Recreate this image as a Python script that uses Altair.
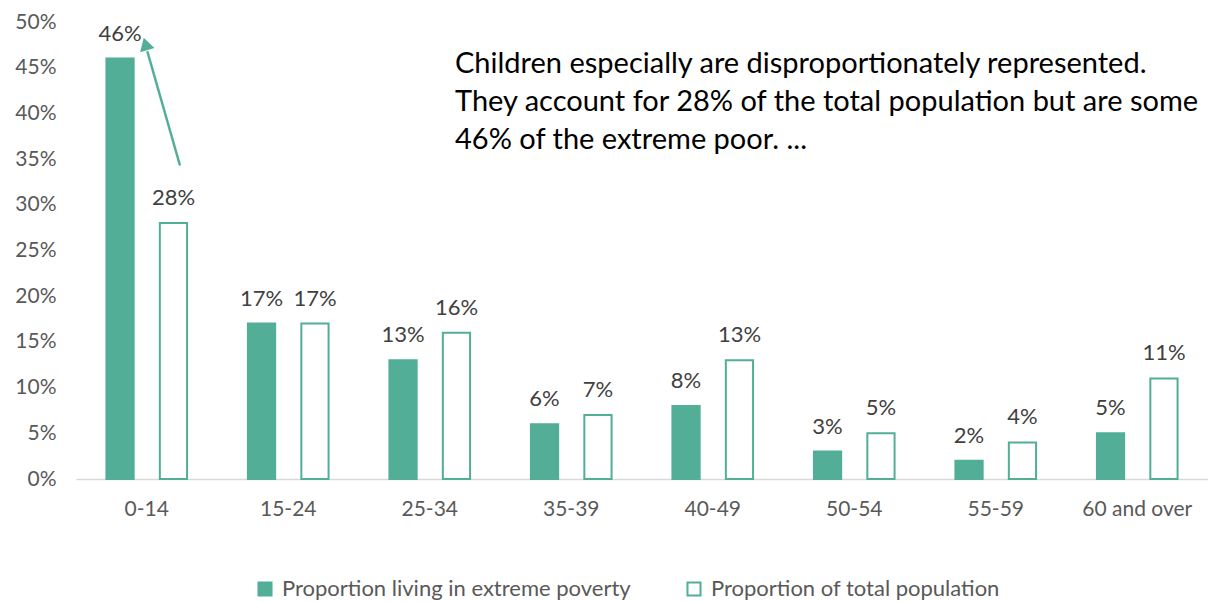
import altair as alt
import pandas as pd

categories = ["0-14", "15-24", "25-34", "35-39", "40-49", "50-54", "55-59", "60 and over"]
poverty = [46, 17, 13, 6, 8, 3, 2, 5]
population = [28, 17, 16, 7, 13, 5, 4, 11]
series_names = ["Proportion living in extreme poverty", "Proportion of total population"]
annotation = [
    "Children especially are disproportionately represented.",
    "They account for 28% of the total population but are some",
    "46% of the extreme poor. ...",
]

GREEN = "#52ae96"
FONT = "Lato"

rows = []
for c, p, t in zip(categories, poverty, population):
    rows.append({"age": c, "series": series_names[0], "value": p})
    rows.append({"age": c, "series": series_names[1], "value": t})
df = pd.DataFrame(rows)

x_enc = alt.X("age:N", sort=categories, title=None,
              scale=alt.Scale(paddingInner=0.43, paddingOuter=0.215),
              axis=alt.Axis(labelAngle=0, labelFont=FONT, labelFontSize=21,
                            labelColor="#595959", ticks=False, labelPadding=19,
                            domainColor="#d9d9d9", domainWidth=1.5))
xoff = alt.XOffset("series:N", sort=series_names,
                   scale=alt.Scale(paddingInner=0.49, paddingOuter=0))
y_enc = alt.Y("value:Q", title=None,
              scale=alt.Scale(domain=[0, 50], nice=False),
              axis=alt.Axis(values=list(range(0, 51, 5)), labelExpr="datum.value + '%'",
                            labelFont=FONT, labelFontSize=21, labelColor="#595959",
                            ticks=False, domain=False, grid=False, labelPadding=20))

base = alt.Chart(df)

bars = base.mark_bar(stroke=GREEN, strokeWidth=2).encode(
    x=x_enc,
    xOffset=xoff,
    y=y_enc,
    fill=alt.Fill("series:N", sort=series_names,
                  scale=alt.Scale(domain=series_names, range=[GREEN, "#ffffff"]),
                  legend=alt.Legend(title=None, orient="none", direction="horizontal",
                                    legendX=178, legendY=556,
                                    symbolType="square", symbolSize=170,
                                    symbolStrokeColor=GREEN, symbolStrokeWidth=2,
                                    labelFont=FONT, labelFontSize=22, labelColor="#595959",
                                    labelLimit=0, columnPadding=52, labelOffset=6)),
)

labels = base.mark_text(font=FONT, fontSize=22, color="#404040",
                        baseline="alphabetic", dy=-18).encode(
    x=alt.X("age:N", sort=categories),
    xOffset=xoff,
    y=alt.Y("value:Q"),
    text=alt.Text("label:N"),
).transform_calculate(label="datum.value + '%'")

ann_df = pd.DataFrame({"text": [annotation]})
ann = alt.Chart(ann_df).mark_text(font=FONT, fontSize=29, color="#000000",
                                  align="left", baseline="alphabetic",
                                  lineHeight=38).encode(
    x=alt.value(379), y=alt.value(51), text="text"
)

arrow_df = pd.DataFrame({"y0": [34.3], "y1": [46.8], "yh": [47.6]})
arrow_line = alt.Chart(arrow_df).mark_rule(color=GREEN, strokeWidth=2.5).encode(
    x=alt.value(104), x2=alt.value(71.3),
    y=alt.Y("y0:Q"), y2="y1:Q",
)
arrow_head = alt.Chart(arrow_df).mark_point(shape="triangle-up", filled=True,
                                            color=GREEN, opacity=1, size=220,
                                            angle=344).encode(
    x=alt.value(69.5), y=alt.Y("yh:Q")
)

chart = alt.layer(bars, labels, ann, arrow_line, arrow_head).properties(
    width=1132, height=457,
    autosize=alt.AutoSizeParams(type="none"),
    padding={"left": 68, "top": 14, "right": 0, "bottom": 123},
).configure_view(stroke=None)

chart.save("out.html", embed_options={"renderer": "svg", "actions": False})
